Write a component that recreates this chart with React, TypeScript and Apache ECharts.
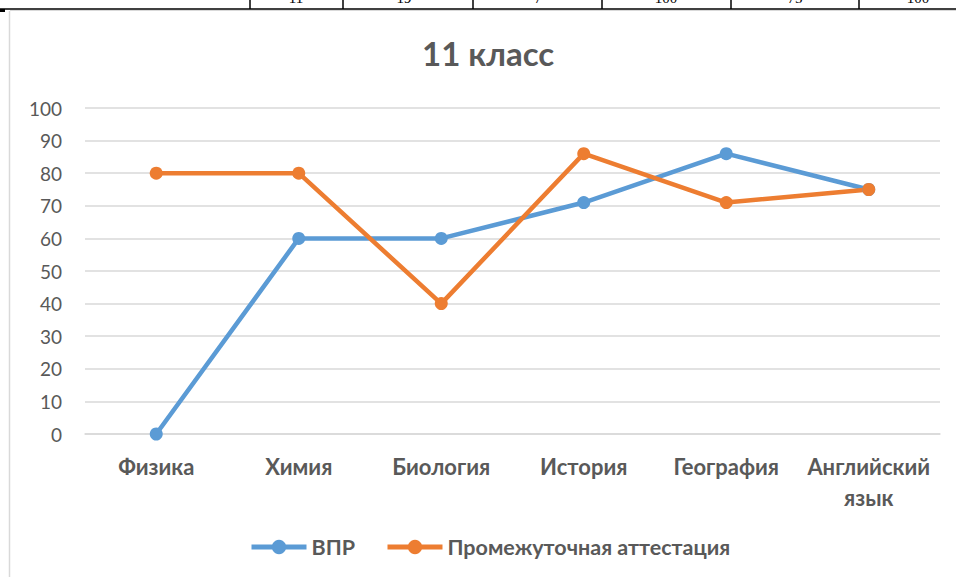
import React, { useEffect, useRef } from "react";
import * as echarts from "echarts";

const categories = ["Физика", "Химия", "Биология", "История", "География", "Английский язык"];
const vprValues = [0, 60, 60, 71, 86, 75];
const attValues = [80, 80, 40, 86, 71, 75];
const seriesNames = ["ВПР", "Промежуточная аттестация"];
const yTicks = [0, 10, 20, 30, 40, 50, 60, 70, 80, 90, 100];
const tableFragments = ["11", "19", "7", "100", "75", "100"];
const tableFragX = [296, 404, 538, 666, 795, 918];
const tableLinesX = [250, 343, 473, 602, 731, 859];

export default function App() {
  const ref = useRef<HTMLDivElement>(null);
  useEffect(() => {
    if (!ref.current) return;
    const chart = echarts.init(ref.current, null, { renderer: "svg" });
    const font = "Lato, 'Noto Sans', sans-serif";
    const graphic: any[] = [
      { type: "line", shape: { x1: 0, y1: 9, x2: 956, y2: 9 }, style: { stroke: "#000", lineWidth: 1.5 } },
      { type: "line", shape: { x1: 10, y1: 10.5, x2: 956, y2: 10.5 }, style: { stroke: "#d9d9d9", lineWidth: 1 } },
      { type: "line", shape: { x1: 9.5, y1: 11, x2: 9.5, y2: 577 }, style: { stroke: "#d9d9d9", lineWidth: 1.5 } },
      { type: "rect", shape: { x: 0, y: 9, width: 5, height: 3 }, style: { fill: "#000" } },
      ...tableLinesX.map((x) => ({
        type: "line",
        shape: { x1: x, y1: 0, x2: x, y2: 9 },
        style: { stroke: "#000", lineWidth: 1.5 },
      })),
      ...tableFragments.map((t, i) => ({
        type: "text",
        x: tableFragX[i],
        y: -10,
        style: { text: t, font: "15px 'Liberation Serif', serif", fill: "#000", align: "center" },
      })),
    ];
    chart.setOption({
      animation: false,
      textStyle: { fontFamily: font },
      title: {
        text: "11 класс",
        left: 417,
        top: 31,
        textStyle: { fontSize: 33, fontWeight: "bold", color: "#595959", fontFamily: font },
      },
      grid: { left: 85, right: 16, top: 108, bottom: 143, containLabel: false },
      xAxis: {
        type: "category",
        data: categories,
        boundaryGap: true,
        axisLine: { show: true, lineStyle: { color: "#d9d9d9", width: 1.5 } },
        axisTick: { show: false },
        axisLabel: {
          interval: 0,
          color: "#595959",
          fontSize: 22,
          fontWeight: "bold",
          margin: 17,
          lineHeight: 31,
          fontFamily: font,
          formatter: (v: string) => v.replace(" ", "\n"),
        },
      },
      yAxis: {
        type: "value",
        min: yTicks[0],
        max: yTicks[yTicks.length - 1],
        interval: 10,
        axisLine: { show: false },
        axisTick: { show: false },
        splitLine: { lineStyle: { color: "#d9d9d9", width: 1.5 } },
        axisLabel: { color: "#595959", fontSize: 19, margin: 23, fontFamily: font },
      },
      legend: {
        top: 531,
        left: 244,
        itemWidth: 55,
        itemHeight: 18,
        itemGap: 30,
        lineStyle: { width: 5 },
        textStyle: { color: "#595959", fontSize: 21.5, fontWeight: "bold", fontFamily: font },
        data: seriesNames,
      },
      series: [
        {
          name: seriesNames[0],
          type: "line",
          data: vprValues,
          symbol: "circle",
          symbolSize: 13,
          lineStyle: { width: 4.5, color: "#5B9BD5" },
          itemStyle: { color: "#5B9BD5" },
        },
        {
          name: seriesNames[1],
          type: "line",
          data: attValues,
          symbol: "circle",
          symbolSize: 13,
          lineStyle: { width: 4.5, color: "#ED7D31" },
          itemStyle: { color: "#ED7D31" },
        },
      ],
      graphic,
    });
    return () => chart.dispose();
  }, []);
  return (
    <div
      ref={ref}
      style={{ position: "absolute", left: 0, top: 0, width: 956, height: 577, background: "#fff" }}
    />
  );
}
